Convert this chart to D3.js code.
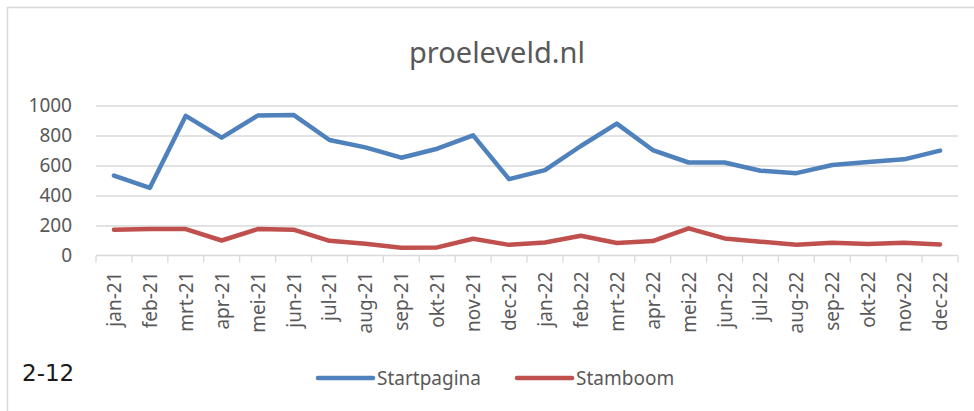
<!DOCTYPE html>
<html>
<head>
<meta charset="utf-8">
<script src="https://cdn.jsdelivr.net/npm/d3@7"></script>
<style>
  body { margin: 0; background: #fff; }
  svg { display: block; font-family: "Noto Sans", sans-serif; }
</style>
</head>
<body>
<svg id="chart" width="974" height="411"></svg>
<script>
///// *** DATA *** /////
var months = ['jan-21', 'feb-21', 'mrt-21', 'apr-21', 'mei-21', 'jun-21', 'jul-21', 'aug-21',
              'sep-21', 'okt-21', 'nov-21', 'dec-21', 'jan-22', 'feb-22', 'mrt-22', 'apr-22',
              'mei-22', 'jun-22', 'jul-22', 'aug-22', 'sep-22', 'okt-22', 'nov-22', 'dec-22'],
    startpagina = [533, 451, 931, 786, 933, 937, 770, 721, 652, 712, 801, 509,
                   569, 730, 879, 703, 620, 620, 565, 549, 603, 623, 641, 699],
    stamboom = [172, 176, 176, 100, 176, 172, 98, 78, 51, 54, 112, 71,
                87, 132, 83, 96, 181, 114, 92, 71, 85, 76, 85, 74],
    yTicks = [0, 200, 400, 600, 800, 1000],
    seriesNames = ['Startpagina', 'Stamboom'],
    seriesColors = ['#4f81bd', '#c0504d'],
    chartTitle = 'proeleveld.nl',
    cornerNote = '2-12';

///// *** SETUP *** /////
var svg = d3.select('#chart'),
    textColor = '#595959',
    gridColor = '#d9d9d9',
    plotLeft = 96, plotRight = 958, plotTop = 105.5, plotBottom = 255.5;

var x = d3.scaleBand().domain(months).range([plotLeft, plotRight]).padding(0);
var y = d3.scaleLinear().domain([0, 1000]).range([plotBottom, plotTop]);

// chart border (runs off the right and bottom of the picture)
svg.append('rect')
  .attr('x', 7.5).attr('y', 7.5)
  .attr('width', 1000).attr('height', 1000)
  .attr('fill', 'none')
  .attr('stroke', gridColor)
  .attr('stroke-width', 1.5);

// title
svg.append('text')
  .attr('x', 497).attr('y', 63)
  .attr('text-anchor', 'middle')
  .attr('font-size', 29)
  .attr('fill', textColor)
  .text(chartTitle);

///// *** AXES *** /////
var gridAxis = d3.axisLeft(y).tickValues(yTicks.slice(1)).tickSize(-(plotRight - plotLeft)).tickFormat('');
svg.append('g')
  .attr('transform', 'translate(' + plotLeft + ',0)')
  .call(gridAxis)
  .call(function(g) {
    g.select('.domain').remove();
    g.selectAll('line').attr('stroke', gridColor).attr('stroke-width', 1.3);
  });

var yAxis = d3.axisLeft(y).tickValues(yTicks).tickSize(0).tickPadding(24).tickFormat(d3.format('d'));
svg.append('g')
  .attr('transform', 'translate(' + plotLeft + ',0)')
  .call(yAxis)
  .call(function(g) {
    g.select('.domain').remove();
    g.selectAll('text')
      .attr('font-size', 19)
      .attr('font-family', '"Noto Sans", sans-serif')
      .attr('fill', textColor);
  });

// x axis line + tick marks at category edges
var xg = svg.append('g');
xg.append('line')
  .attr('x1', plotLeft).attr('x2', plotRight)
  .attr('y1', plotBottom).attr('y2', plotBottom)
  .attr('stroke', gridColor).attr('stroke-width', 1.3);

xg.selectAll('line.tick')
  .data(months.concat(['end']))
  .enter().append('line')
  .attr('class', 'tick')
  .attr('x1', function(d) { return d === 'end' ? plotRight : x(d); })
  .attr('x2', function(d) { return d === 'end' ? plotRight : x(d); })
  .attr('y1', plotBottom).attr('y2', plotBottom + 7)
  .attr('stroke', gridColor).attr('stroke-width', 1.3);

xg.selectAll('text')
  .data(months)
  .enter().append('text')
  .attr('transform', function(d) {
    return 'translate(' + (x(d) + x.bandwidth() / 2 + 7) + ',' + (plotBottom + 16) + ') rotate(-90)';
  })
  .attr('text-anchor', 'end')
  .attr('font-size', 19)
  .attr('fill', textColor)
  .text(function(d) { return d; });

///// *** LINES *** /////
var line = d3.line()
  .x(function(d, i) { return x(months[i]) + x.bandwidth() / 2; })
  .y(function(d) { return y(d); });

[startpagina, stamboom].forEach(function(values, i) {
  svg.append('path')
    .datum(values)
    .attr('d', line)
    .attr('fill', 'none')
    .attr('stroke', seriesColors[i])
    .attr('stroke-width', 4.5)
    .attr('stroke-linejoin', 'round')
    .attr('stroke-linecap', 'round');
});

///// *** LEGEND *** /////
var legendX = [318, 517];
seriesNames.forEach(function(name, i) {
  svg.append('line')
    .attr('x1', legendX[i]).attr('x2', legendX[i] + 55)
    .attr('y1', 378).attr('y2', 378)
    .attr('stroke', seriesColors[i])
    .attr('stroke-width', 4.5)
    .attr('stroke-linecap', 'round');
  svg.append('text')
    .attr('x', legendX[i] + 59).attr('y', 385)
    .attr('font-size', 19)
    .attr('fill', textColor)
    .text(name);
});

// note bottom left
svg.append('text')
  .attr('x', 22).attr('y', 381)
  .attr('font-family', '"DejaVu Sans", sans-serif')
  .attr('font-size', 23)
  .attr('fill', '#1a1a1a')
  .text(cornerNote);
</script>
</body>
</html>
